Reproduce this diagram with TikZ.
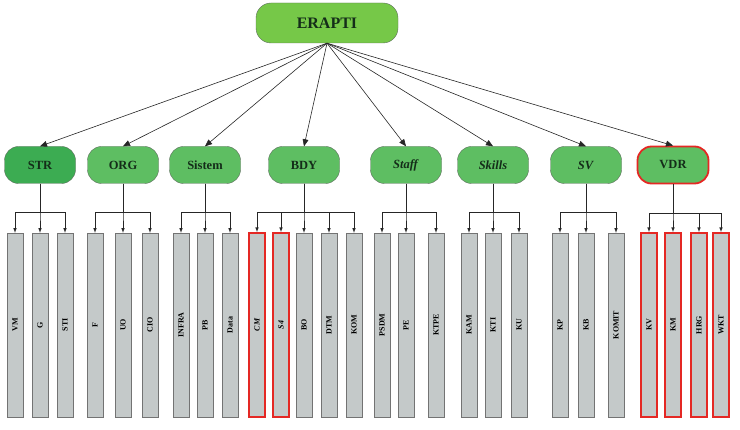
\documentclass[tikz,border=0pt]{standalone}
\usepackage{fontspec}
\setmainfont{Liberation Serif}
\definecolor{rootgreen}{RGB}{118,200,72}
\definecolor{strgreen}{RGB}{60,172,82}
\definecolor{dimgreen}{RGB}{94,190,98}
\definecolor{bargrey}{RGB}{196,201,201}
\definecolor{lineborder}{RGB}{95,110,95}
\definecolor{markred}{RGB}{228,40,36}
\definecolor{textdark}{RGB}{20,45,25}
\usetikzlibrary{arrows,positioning,calc}

\tikzset{
    root/.style={draw=lineborder, fill=rootgreen, rounded corners=15pt, minimum width=142pt, minimum height=40pt, text=textdark, font=\fontsize{16}{18}\selectfont\bfseries},
    dim/.style={draw=lineborder, fill=dimgreen, rounded corners=14pt, minimum width=71pt, minimum height=37pt, text=textdark, font=\fontsize{12.5}{14}\selectfont\bfseries},
    bar/.style={draw=black!55, fill=bargrey, minimum width=16pt, minimum height=184pt, inner sep=0pt, font=\fontsize{8}{9}\selectfont\bfseries},
    flag/.style={draw=markred, line width=1.8pt},
    link/.style={-latex, black!85, line width=0.6pt}
}
\newcommand{\vtext}[1]{\rotatebox{90}{#1}}

\begin{document}
\begin{tikzpicture}[x=1pt,y=-1pt]
    \useasboundingbox (0,0) rectangle (740,430);

    % root
    \node[root] (erapti) at (327,23) {ERAPTI};

    % dimensions
    \node[dim, fill=strgreen] (str) at (40,165) {STR};
    \node[dim] (org) at (123,165) {ORG};
    \node[dim] (sistem) at (205,165) {Sistem};
    \node[dim] (bdy) at (304,165) {BDY};
    \node[dim] (staff) at (406,165) {\textit{Staff}};
    \node[dim] (skills) at (493,165) {\textit{Skills}};
    \node[dim] (sv) at (586,165) {\textit{SV}};
    \node[dim, draw=markred, line width=1.8pt] (vdr) at (673,165) {VDR};

    \foreach \n in {str,org,sistem,bdy,staff,skills,sv,vdr}
        \draw[link, -triangle 45] (erapti.south) -- (\n.north);

    % indicators
    \node[bar] (vm) at (15,325) {\vtext{VM}};
    \node[bar] (g) at (40,325) {\vtext{G}};
    \node[bar] (sti) at (65,325) {\vtext{STI}};

    \node[bar] (f) at (95,325) {\vtext{F}};
    \node[bar] (uo) at (123,325) {\vtext{UO}};
    \node[bar] (cio) at (150,325) {\vtext{CIO}};

    \node[bar] (infra) at (181,325) {\vtext{INFRA}};
    \node[bar] (pb) at (205,325) {\vtext{PB}};
    \node[bar] (data) at (230,325) {\vtext{Data}};

    \node[bar, flag] (cm) at (257,325) {\vtext{\textit{CM}}};
    \node[bar, flag] (sa) at (281,325) {\vtext{\textit{S4}}};
    \node[bar] (bo) at (304,325) {\vtext{BO}};
    \node[bar] (dtm) at (329,325) {\vtext{DTM}};
    \node[bar] (kom) at (354,325) {\vtext{KOM}};

    \node[bar] (psdm) at (382,325) {\vtext{PSDM}};
    \node[bar] (pe) at (406,325) {\vtext{PE}};
    \node[bar] (ktpe) at (436,325) {\vtext{KTPE}};

    \node[bar] (kam) at (469,325) {\vtext{KAM}};
    \node[bar] (kti) at (493,325) {\vtext{KTI}};
    \node[bar] (ku) at (519,325) {\vtext{KU}};

    \node[bar] (kp) at (560,325) {\vtext{KP}};
    \node[bar] (kb) at (586,325) {\vtext{KB}};
    \node[bar] (komit) at (616,325) {\vtext{KOMIT}};

    \node[bar, flag] (kv) at (649,325) {\vtext{KV}};
    \node[bar, flag] (km) at (673,325) {\vtext{KM}};
    \node[bar, flag] (hrg) at (699,325) {\vtext{HRG}};
    \node[bar, flag] (wkt) at (721,325) {\vtext{WKT}};

    % branches
    \foreach \c in {vm,g,sti} \draw[link] (str.south) -- ++(0,29) -| (\c.north);
    \foreach \c in {f,uo,cio} \draw[link] (org.south) -- ++(0,29) -| (\c.north);
    \foreach \c in {infra,pb,data} \draw[link] (sistem.south) -- ++(0,29) -| (\c.north);
    \foreach \c in {cm,sa,bo,dtm,kom} \draw[link] (bdy.south) -- ++(0,29) -| (\c.north);
    \foreach \c in {psdm,pe,ktpe} \draw[link] (staff.south) -- ++(0,29) -| (\c.north);
    \foreach \c in {kam,kti,ku} \draw[link] (skills.south) -- ++(0,29) -| (\c.north);
    \foreach \c in {kp,kb,komit} \draw[link] (sv.south) -- ++(0,29) -| (\c.north);
    \foreach \c in {kv,km,hrg,wkt} \draw[link] (vdr.south) -- ++(0,29) -| (\c.north);
\end{tikzpicture}
\end{document}
